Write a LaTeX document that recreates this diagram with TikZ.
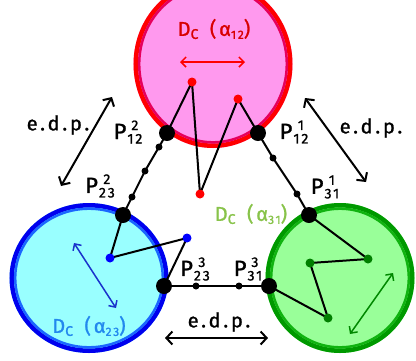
\documentclass[tikz,border=0pt]{standalone}
\usepackage{fontspec}
\setmainfont{Fira Sans}
\newfontfamily\hand{Fira Sans}[LetterSpace=14, FakeBold=1.2]
\usetikzlibrary{arrows.meta}
\pgfdeclarelayer{bg}
\pgfdeclarelayer{mid}
\pgfsetlayers{bg,mid,main}
\definecolor{pinkfill}{HTML}{FF99EE}
\definecolor{pinkin}{HTML}{E6005C}
\definecolor{bluefill}{HTML}{99FFFF}
\definecolor{blueout}{HTML}{0000EE}
\definecolor{bluein}{HTML}{1A66FF}
\definecolor{greenfill}{HTML}{99FF99}
\definecolor{greenout}{HTML}{009900}
\definecolor{greenin}{HTML}{11B311}
\definecolor{redtxt}{HTML}{D80000}
\definecolor{bluetxt}{HTML}{2288EE}
\definecolor{greentxt}{HTML}{88C34A}
\definecolor{bluearr}{HTML}{1A33CC}
\definecolor{greenarr}{HTML}{008800}
\definecolor{greendot}{HTML}{007F00}
\newcommand{\PL}[2]{P\kern1pt\setbox0=\hbox{\fontsize{14}{14}\selectfont #2}\rlap{\makebox[\wd0][c]{\raisebox{9pt}{\fontsize{14}{14}\selectfont #1}}}\raisebox{-4.5pt}{\box0}}
\newcommand{\DC}[2]{D\raisebox{-3pt}{\fontsize{14}{14}\selectfont C}\ \,(#1\raisebox{-3pt}{\fontsize{12}{12}\selectfont #2})}
\begin{document}
\begin{tikzpicture}[x=1pt,y=-1pt,
  bigdot/.style={circle,fill=black,inner sep=0pt,minimum size=16pt},
  smalldot/.style={circle,fill=black,inner sep=0pt,minimum size=7pt},
  cdot/.style={circle,fill=#1,inner sep=0pt,minimum size=9pt},
  seg/.style={line width=2pt,black,line join=round},
  edp/.style={line width=2pt,black,{Straight Barb[length=6pt,width=13pt]}-{Straight Barb[length=6pt,width=13pt]}},
  inarr/.style={line width=1.5pt,#1,{Straight Barb[length=5pt,width=10pt]}-{Straight Barb[length=5pt,width=10pt]}},
  lab/.style={font=\hand\fontsize{20}{20}\selectfont,inner sep=0pt},
  plab/.style={font=\hand\fontsize{22}{22}\selectfont,inner sep=0pt},
  dlab/.style={font=\hand\fontsize{20}{20}\selectfont,inner sep=0pt,text=#1}
]
\useasboundingbox (0,0) rectangle (416,360);
% disks
\begin{pgfonlayer}{bg}
\fill[pinkfill] (213,64) ellipse [x radius=79.5, y radius=84];
\draw[red,line width=4.5pt] (213,64) ellipse [x radius=77.25, y radius=81.75];
\draw[pinkin,line width=2.5pt] (213,64) ellipse [x radius=73.8, y radius=78.3];
\fill[bluefill] (89,278) ellipse [x radius=79.5, y radius=75];
\draw[blueout,line width=4.5pt] (89,278) ellipse [x radius=77.25, y radius=72.75];
\draw[bluein,line width=2.5pt] (89,278) ellipse [x radius=73.8, y radius=69.3];
\fill[greenfill] (340,278) ellipse [x radius=74.5, y radius=75];
\draw[greenout,line width=4.5pt] (340,278) ellipse [x radius=72.25, y radius=72.75];
\draw[greenin,line width=2.5pt] (340,278) ellipse [x radius=68.8, y radius=69.3];
\end{pgfonlayer}
% points
\node[bigdot] (P12b) at (167,133) {};
\node[bigdot] (P12a) at (258,133) {};
\node[bigdot] (P23b) at (123,215) {};
\node[bigdot] (P23c) at (164,286) {};
\node[bigdot] (P31c) at (269,286) {};
\node[bigdot] (P31a) at (309,215) {};
\node[smalldot] (s1) at (159,147) {};
\node[smalldot] (s2) at (145,171) {};
\node[smalldot] (s3) at (132,197) {};
\node[smalldot] (s4) at (273,158) {};
\node[smalldot] (s5) at (297,194) {};
\node[smalldot] (s6) at (196,286) {};
\node[smalldot] (s7) at (239,286) {};
\node[cdot=red] (r1) at (192,82) {};
\node[cdot=red] (r2) at (200,194) {};
\node[cdot=red] (r3) at (238,99) {};
\node[cdot=blue] (b1) at (110,258) {};
\node[cdot=blue] (b2) at (187,238) {};
\node[cdot=greendot] (g1) at (368,259) {};
\node[cdot=greendot] (g2) at (310,263) {};
\node[cdot=greendot] (g3) at (328,318) {};
% connectors
\begin{pgfonlayer}{mid}
\draw[seg] (P12b.center) -- (s1.center) -- (s2.center) -- (s3.center) -- (P23b.center);
\draw[seg] (P12a.center) -- (s4.center) -- (s5.center) -- (P31a.center);
\draw[seg] (P23c.center) -- (s6.center) -- (s7.center) -- (P31c.center);
\draw[seg] (P12b.center) -- (r1.center) -- (r2.center) -- (r3.center) -- (P12a.center);
\draw[seg] (P23b.center) -- (b1.center) -- (b2.center) -- (P23c.center);
\draw[seg] (P31a.center) -- (g1.center) -- (g2.center) -- (g3.center) -- (P31c.center);
\end{pgfonlayer}
% arrows inside disks
\coordinate (ra1) at (180,62); \coordinate (ra2) at (245,62);
\coordinate (ba1) at (74,243); \coordinate (ba2) at (116,308);
\coordinate (ga1) at (393,273); \coordinate (ga2) at (350,334);
\draw[inarr=red] (ra1) -- (ra2);
\draw[inarr=bluearr] (ba1) -- (ba2);
\draw[inarr=greenarr] (ga1) -- (ga2);
% e.d.p. arrows
\coordinate (ea1) at (112,97); \coordinate (ea2) at (61,186);
\coordinate (eb1) at (305,98); \coordinate (eb2) at (366,182);
\coordinate (ec1) at (165,338); \coordinate (ec2) at (268,338);
\draw[edp] (ea1) -- (ea2);
\draw[edp] (eb1) -- (eb2);
\draw[edp] (ec1) -- (ec2);
\node[lab] (t1) at (58,125) {e.d.p.};
\node[lab] (t2) at (371,128) {e.d.p.};
\node[lab] (t3) at (219,322) {e.d.p.};
% disk labels
\node[dlab=redtxt] (d12) at (214,29) {\DC{α}{12}};
\node[dlab=bluetxt] (d23) at (89,326) {\DC{α}{23}};
\node[dlab=greentxt] (d31) at (251,214) {\DC{α}{31}};
% point labels
\node[plab] (l1) at (128,132) {\PL{2}{12}};
\node[plab] (l2) at (100,186) {\PL{2}{23}};
\node[plab] (l3) at (294,132) {\PL{1}{12}};
\node[plab] (l4) at (325,187) {\PL{1}{31}};
\node[plab] (l5) at (195,269) {\PL{3}{23}};
\node[plab] (l6) at (248,269) {\PL{3}{31}};
\end{tikzpicture}
\end{document}
